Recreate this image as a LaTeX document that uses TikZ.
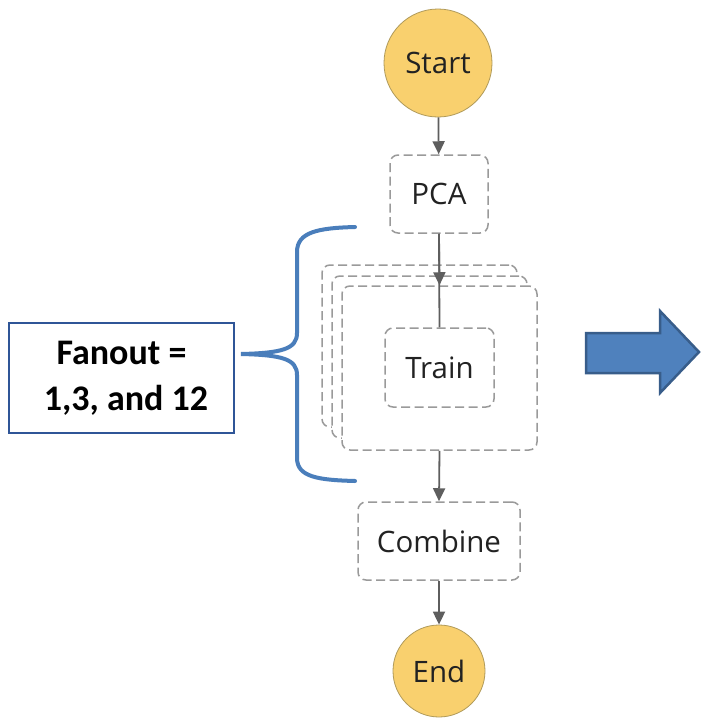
\documentclass[tikz,border=0pt]{standalone}
\usepackage{fontspec}
\setmainfont{Open Sans}
\newfontfamily\calfont{Carlito}
\usetikzlibrary{arrows.meta}
\definecolor{startfill}{HTML}{F9D06E}
\definecolor{startdraw}{HTML}{B09A5A}
\definecolor{dashgray}{HTML}{9A9A9A}
\definecolor{arrowgray}{HTML}{5E5E5E}
\definecolor{txtgray}{HTML}{222222}
\definecolor{braceblue}{HTML}{4A7EBB}
\definecolor{boxblue}{HTML}{2F5597}
\definecolor{arrowfill}{HTML}{4F81BD}
\definecolor{arrowdraw}{HTML}{385D8A}
\tikzset{
  x=1pt, y=-1pt,
  terminal/.style={circle, fill=startfill, draw=startdraw, line width=0.8pt, inner sep=0pt,
    text=txtgray, font=\fontsize{29.5}{34}\selectfont},
  stepbox/.style={rectangle, rounded corners=8pt, draw=dashgray, line width=1.5pt,
    dash pattern=on 9pt off 4.5pt, fill=white, inner sep=0pt, text=txtgray,
    font=\fontsize{29.5}{34}\selectfont},
  flow/.style={draw=arrowgray, line width=1.8pt, -{Triangle[length=13pt,width=12pt]}},
  plain/.style={draw=arrowgray, line width=1.8pt},
}
\begin{document}
\begin{tikzpicture}
\fill[white] (0,0) rectangle (702,718);
\useasboundingbox (0,0) rectangle (702,718);

% nodes
\node[terminal, minimum size=108pt] (start) at (438,63) {Start};
\node[stepbox, minimum width=98pt, minimum height=78pt] (pca) at (439,194) {PCA};
\node[stepbox, minimum width=195pt, minimum height=162pt] (back) at (419.5,346) {};
\node[stepbox, minimum width=195pt, minimum height=162pt] (mid) at (429.5,357) {};
\node[stepbox, minimum width=195pt, minimum height=164pt] (front) at (439.5,368) {};
\node[stepbox, minimum width=109pt, minimum height=79pt] (train) at (439.5,367.5) {Train};
\node[stepbox, minimum width=162pt, minimum height=78pt] (combine) at (439,541) {Combine};
\node[terminal, minimum size=92pt] (end) at (439,671) {End};

% connectors
\draw[plain] (pca.south) -- (train.north);
\draw[flow] (start) -- (pca);
\draw[flow] (pca.south) -- (front.north);
\draw[flow] (front.south) -- (combine.north);
\draw[flow] (combine.south) -- (end.north);

% fanout label
\node[draw=boxblue, line width=2pt, minimum width=225pt, minimum height=110pt,
  align=center, font=\calfont\bfseries\fontsize{36}{46}\selectfont, text=black]
  (fanout) at (121.5,378) {\raisebox{-4pt}{Fanout =}\\ \hspace{9pt}\raisebox{-4pt}{1,3, and 12}};

% brace
\coordinate (cusp) at (241,354);
\draw[braceblue, line width=4pt, line cap=round]
  (355,227) .. controls (318,228) and (297,232) .. (297,252)
  -- (297,333) .. controls (297,349) and (282,353) .. (cusp)
  .. controls (282,355) and (297,359) .. (297,375)
  -- (297,458) .. controls (297,477) and (318,480) .. (355,481);

% big arrow
\draw[fill=arrowfill, draw=arrowdraw, line width=2.5pt, line join=miter]
  (586,333) -- (660,333) -- (660,311) -- (699,352) -- (660,393) -- (660,373) -- (586,373) -- cycle;
\end{tikzpicture}
\end{document}
